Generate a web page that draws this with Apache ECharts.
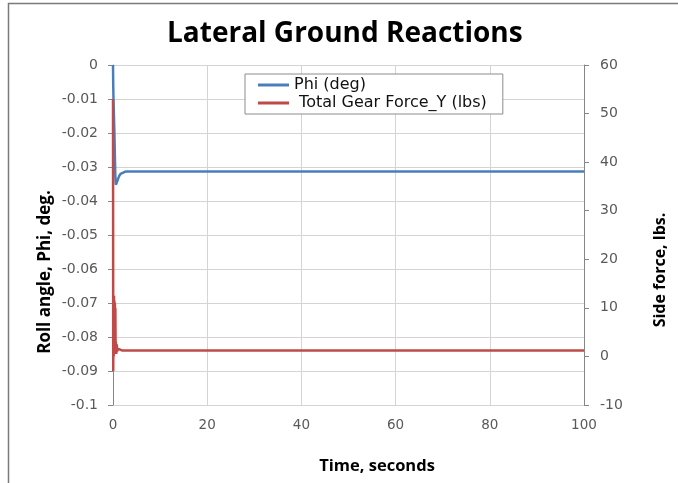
<!DOCTYPE html>
<html>
<head>
<meta charset="utf-8">
<script src="https://cdn.jsdelivr.net/npm/echarts@6/dist/echarts.min.js"></script>
<style>html,body{margin:0;padding:0;background:#fff}#c{width:678px;height:483px}</style>
</head>
<body>
<div id="c"></div>
<script>
var titleText = 'Lateral Ground Reactions';
var xTitle = 'Time, seconds';
var leftTitle = 'Roll angle, Phi, deg.';
var rightTitle = 'Side force, lbs.';
var seriesNames = ['Phi (deg)', 'Total Gear Force_Y (lbs)'];

var phiTime = [0, 0.05, 0.1, 0.2, 0.3, 0.4, 0.5, 0.6, 0.8, 1.0, 1.3, 1.6, 2.0, 2.5, 3.0, 10, 50, 100];
var phiValues = [0, -0.006, -0.010, -0.015, -0.020, -0.027, -0.033, -0.0352, -0.0348, -0.0338, -0.0327, -0.0320, -0.0316, -0.0314, -0.0313, -0.0313, -0.0313, -0.0313];

var forceTime = [0, 0.05, 0.1, 0.15, 0.2, 0.25, 0.3, 0.35, 0.4, 0.45, 0.5, 0.55, 0.6, 0.7, 0.8, 0.9, 1.0, 1.2, 2, 5, 10, 50, 100];
var forceValues = [53, -3, 12, 0, 12.5, 0.5, 11.5, 1, 11, 1, 10, 1.5, 3, 0.5, 2.5, 1.0, 1.6, 1.2, 1.2, 1.2, 1.2, 1.2, 1.2];

var xTicks = [0, 20, 40, 60, 80, 100];
var leftTicks = [-0.1, 0];
var rightTicks = [-10, 60];

function pairs(t, v) { return t.map(function (x, i) { return [x, v[i]]; }); }

var font = 'Open Sans';
var tickFont = 'DejaVu Sans';
var chart = echarts.init(document.getElementById('c'));
chart.setOption({
  animation: false,
  backgroundColor: '#fff',
  title: {
    text: titleText, left: 162, top: 15,
    textStyle: { fontFamily: font, fontSize: 28, fontWeight: 'bold', color: '#000' }
  },
  grid: { left: 113, right: 94, top: 65, bottom: 78 },
  legend: {
    orient: 'vertical', left: 245, top: 74,
    padding: [3, 16, 3, 13], itemGap: 2,
    backgroundColor: '#fff', borderColor: '#8c8c8c', borderWidth: 1,
    itemWidth: 31, itemHeight: 3,
    icon: 'rect',
    formatter: function (name) { return name === seriesNames[1] ? ' ' + name : name; },
    textStyle: { fontFamily: tickFont, fontSize: 16, color: '#111' },
    data: seriesNames
  },
  xAxis: {
    type: 'value', min: xTicks[0], max: xTicks[xTicks.length - 1], interval: 20,
    axisLine: { show: false },
    axisTick: { show: false },
    axisLabel: { fontFamily: tickFont, fontSize: 13.5, color: '#595959', margin: 13 },
    splitLine: { show: true, lineStyle: { color: '#d4d4d4', width: 1 } }
  },
  yAxis: [{
    type: 'value', min: leftTicks[0], max: leftTicks[1], interval: 0.01,
    position: 'left',
    axisLine: { show: true, lineStyle: { color: '#868686' } },
    axisTick: { show: true, length: 5, lineStyle: { color: '#868686' } },
    axisLabel: {
      fontFamily: tickFont, fontSize: 14, color: '#595959', margin: 15,
      formatter: function (v) { return String(parseFloat(v.toFixed(3))); }
    },
    splitLine: { show: true, lineStyle: { color: '#d4d4d4', width: 1 } }
  }, {
    type: 'value', min: rightTicks[0], max: rightTicks[1], interval: 10,
    position: 'right',
    axisLine: { show: true, lineStyle: { color: '#868686' } },
    axisTick: { show: true, length: 5, lineStyle: { color: '#868686' } },
    axisLabel: { fontFamily: tickFont, fontSize: 14, color: '#595959', margin: 16 },
    splitLine: { show: false }
  }],
  graphic: [
    { type: 'rect', shape: { x: 8.5, y: 3.5, width: 720, height: 520 },
      style: { fill: 'none', stroke: '#7a7a7a', lineWidth: 1.5 }, silent: true, z: -1 },
    { type: 'text', x: 45, y: 272, rotation: Math.PI / 2, silent: true,
      style: { text: leftTitle, fontFamily: font, fontSize: 17, fontWeight: 'bold', fill: '#000',
               textAlign: 'center', textVerticalAlign: 'middle' } },
    { type: 'text', x: 660, y: 270, rotation: Math.PI / 2, silent: true,
      style: { text: rightTitle, fontFamily: font, fontSize: 16, fontWeight: 'bold', fill: '#000',
               textAlign: 'center', textVerticalAlign: 'middle' } },
    { type: 'text', x: 377, y: 466, silent: true,
      style: { text: xTitle, fontFamily: font, fontSize: 16.5, fontWeight: 'bold', fill: '#000',
               textAlign: 'center', textVerticalAlign: 'middle' } }
  ],
  series: [{
    name: seriesNames[0], type: 'line', yAxisIndex: 0, showSymbol: false, symbol: 'none',
    data: pairs(phiTime, phiValues),
    lineStyle: { color: '#4a7ebb', width: 2.5 }, itemStyle: { color: '#4a7ebb' }, z: 2
  }, {
    name: seriesNames[1], type: 'line', yAxisIndex: 1, showSymbol: false, symbol: 'none',
    data: pairs(forceTime, forceValues),
    lineStyle: { color: '#be4b48', width: 2.5 }, itemStyle: { color: '#be4b48' }, z: 3
  }]
});
</script>
</body>
</html>
